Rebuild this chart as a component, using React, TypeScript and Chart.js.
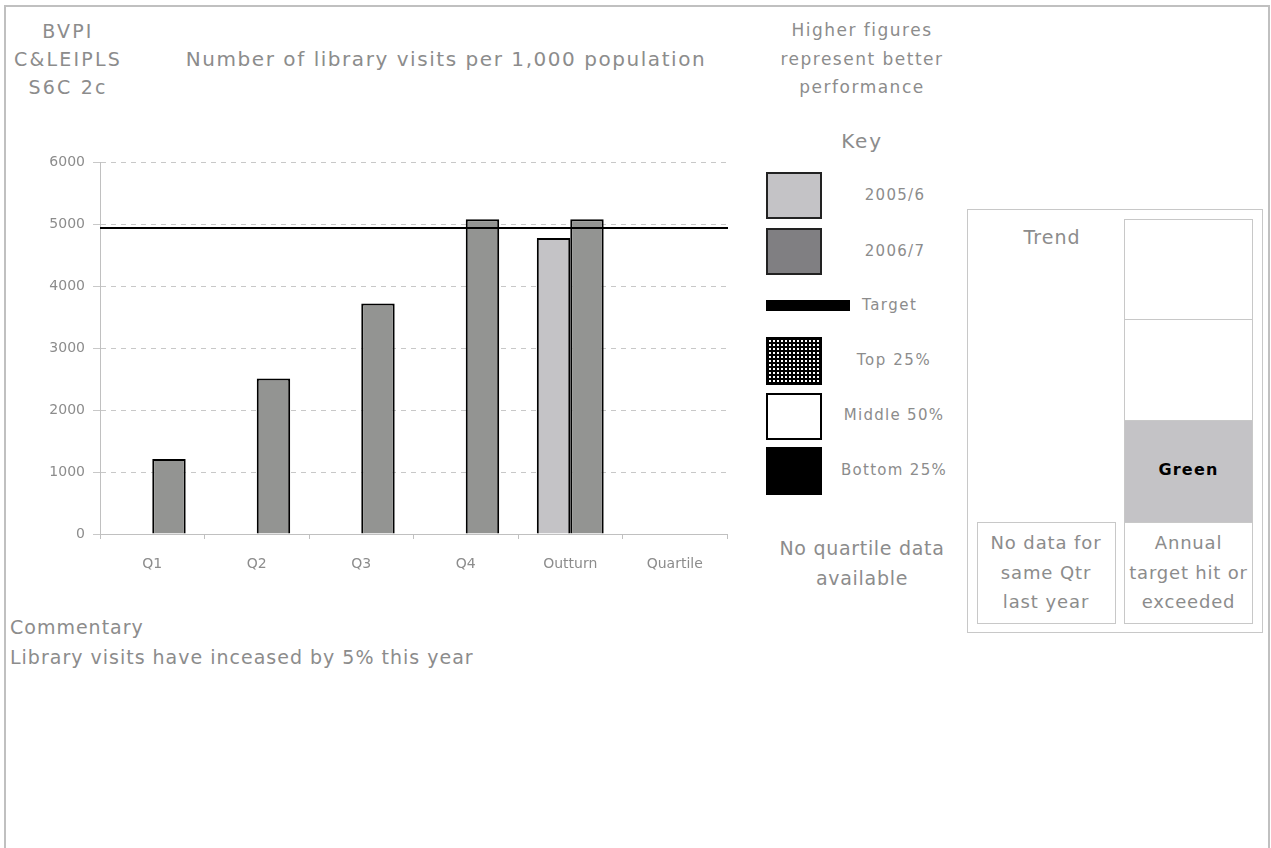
import React, { useEffect, useRef } from "react";
import { Chart, registerables } from "chart.js";

Chart.register(...registerables);

const categories = ["Q1", "Q2", "Q3", "Q4", "Outturn", "Quartile"];
const series2005 = [null, null, null, null, 4779, null];
const series2006 = [1210, 2511, 3721, 5081, 5081, null];
const TARGET = 4940;
const yTicks = [0, 1000, 2000, 3000, 4000, 5000, 6000];

const GREY_TEXT = "#8c8c8c";
const FONT = "'DejaVu Sans', Verdana, sans-serif";

const targetPlugin = {
  id: "targetLine",
  afterDatasetsDraw(chart: any) {
    const { ctx, chartArea, scales } = chart;
    const y = scales.y.getPixelForValue(TARGET);
    ctx.save();
    ctx.strokeStyle = "#000";
    ctx.lineWidth = 2;
    ctx.beginPath();
    ctx.moveTo(chartArea.left, y);
    ctx.lineTo(chartArea.right + 1, y);
    ctx.stroke();
    ctx.restore();
  },
};

function BarChart() {
  const ref = useRef<HTMLCanvasElement>(null);
  useEffect(() => {
    if (!ref.current) return;
    const chart = new Chart(ref.current, {
      type: "bar",
      data: {
        labels: categories,
        datasets: [
          {
            label: "2005/6",
            data: series2005,
            backgroundColor: "#c4c3c6",
            borderColor: "#000",
            borderWidth: 2,
          },
          {
            label: "2006/7",
            data: series2006,
            backgroundColor: "#939492",
            borderColor: "#000",
            borderWidth: 2,
          },
        ],
      },
      options: {
        animation: false,
        responsive: false,
        maintainAspectRatio: false,
        layout: { padding: { left: 0, top: 9, right: 13, bottom: 0 } },
        plugins: { legend: { display: false }, tooltip: { enabled: false }, title: { display: false } },
        datasets: { bar: { categoryPercentage: 0.64, barPercentage: 1 } },
        scales: {
          x: {
            offset: true,
            grid: {
              offset: true,
              drawOnChartArea: false,
              drawTicks: true,
              tickLength: 5,
              color: "#c0c0c0",
            },
            border: { color: "#c0c0c0", width: 1 },
            ticks: { color: GREY_TEXT, font: { family: FONT, size: 14 }, padding: 17 },
            afterFit(scale: any) {
              scale.height = 46;
            },
          },
          y: {
            min: 0,
            max: 6000,
            afterBuildTicks(scale: any) {
              scale.ticks = yTicks.map((v) => ({ value: v }));
            },
            grid: {
              color: "#c8c8c8",
              tickLength: 7,
              tickBorderDash: [],
              tickColor: "#c8c8c8",
            },
            border: { color: "#c0c0c0", width: 1, dash: [5, 5] },
            ticks: {
              color: GREY_TEXT,
              font: { family: FONT, size: 14 },
              padding: 8,
              callback: (v: any) => String(v),
            },
            afterFit(scale: any) {
              scale.width = 100;
            },
          },
        },
      },
      plugins: [targetPlugin],
    });
    return () => chart.destroy();
  }, []);
  return <canvas ref={ref} width={740} height={434} style={{ position: "absolute", left: 0, top: 146, width: 740, height: 434 }} />;
}

const txt = (s: React.CSSProperties): React.CSSProperties => ({
  position: "absolute",
  color: GREY_TEXT,
  fontFamily: FONT,
  whiteSpace: "nowrap",
  ...s,
});

function Centered({ cx, top, w, size, lh, ls, children, style }: any) {
  return (
    <div
      style={txt({
        left: cx - w / 2,
        top,
        width: w,
        textAlign: "center",
        fontSize: size,
        lineHeight: lh + "px",
        letterSpacing: (ls || 0) + "px",
        ...style,
      })}
    >
      {children}
    </div>
  );
}

const box = (s: React.CSSProperties): React.CSSProperties => ({
  position: "absolute",
  boxSizing: "border-box",
  ...s,
});

export default function App() {
  return (
    <div style={{ position: "absolute", left: 0, top: 0, width: 1271, height: 848, background: "#fff", overflow: "hidden" }}>
      <div style={box({ left: 4, top: 5, width: 1266, height: 860, border: "2px solid #c0c0c0" })} />

      <Centered cx={68} top={17} w={150} size={19} lh={28} ls={2.2}>
        BVPI<br />C&amp;LEIPLS<br />S6C 2c
      </Centered>
      <Centered cx={446} top={45} w={600} size={20} lh={28} ls={1.55}>
        Number of library visits per 1,000 population
      </Centered>

      <BarChart />

      <Centered cx={862} top={16} w={200} size={17} lh={28.5} ls={1.5}>
        Higher figures<br />represent better<br />performance
      </Centered>
      <Centered cx={862} top={127} w={100} size={20} lh={28} ls={1.8}>
        Key
      </Centered>

      <div style={box({ left: 766, top: 172, width: 56, height: 47, background: "#c4c3c6", border: "2px solid #222" })} />
      <Centered cx={895} top={185} w={110} size={15} lh={20} ls={1.3}>2005/6</Centered>
      <div style={box({ left: 766, top: 228, width: 56, height: 47, background: "#807f82", border: "2px solid #222" })} />
      <Centered cx={895} top={241} w={110} size={15} lh={20} ls={1.3}>2006/7</Centered>
      <div style={box({ left: 766, top: 300, width: 84, height: 11, background: "#000" })} />
      <div style={txt({ left: 862, top: 295, fontSize: 15, lineHeight: "20px", letterSpacing: "1.5px" })}>Target</div>

      <div
        style={box({
          left: 766,
          top: 337,
          width: 56,
          height: 48,
          border: "2px solid #000",
          backgroundColor: "#000",
          backgroundImage: "radial-gradient(circle, #fff 1px, transparent 1.3px)",
          backgroundSize: "4px 4px",
        })}
      />
      <Centered cx={894} top={350} w={120} size={15} lh={20} ls={1.6}>Top 25%</Centered>
      <div style={box({ left: 766, top: 393, width: 56, height: 47, background: "#fff", border: "2px solid #000" })} />
      <Centered cx={894} top={405} w={120} size={15} lh={20} ls={1.3}>Middle 50%</Centered>
      <div style={box({ left: 766, top: 447, width: 56, height: 48, background: "#000" })} />
      <Centered cx={894} top={460} w={120} size={15} lh={20} ls={1.3}>Bottom 25%</Centered>

      <Centered cx={862} top={533} w={200} size={19} lh={30} ls={0.7}>
        No quartile data<br />available
      </Centered>

      <div style={box({ left: 967, top: 209, width: 296, height: 424, border: "1px solid #c8c8c8" })} />
      <Centered cx={1052} top={223} w={120} size={19} lh={28} ls={1}>Trend</Centered>
      <div style={box({ left: 1124, top: 219, width: 129, height: 101, border: "1px solid #c8c8c8" })} />
      <div style={box({ left: 1124, top: 319, width: 129, height: 102, border: "1px solid #c8c8c8" })} />
      <div style={box({ left: 1124, top: 420, width: 129, height: 103, background: "#c4c3c6", border: "1px solid #c8c8c8" })} />
      <Centered cx={1188.5} top={459} w={120} size={16} lh={22} ls={1.2} style={{ color: "#000", fontWeight: "bold" }}>Green</Centered>
      <div style={box({ left: 1124, top: 522, width: 129, height: 102, border: "1px solid #c8c8c8" })} />
      <Centered cx={1188.5} top={528} w={129} size={18} lh={29.5} ls={0.8}>
        Annual<br />target hit or<br />exceeded
      </Centered>
      <div style={box({ left: 977, top: 522, width: 139, height: 102, border: "1px solid #c8c8c8" })} />
      <Centered cx={1046} top={528} w={139} size={18} lh={29.5} ls={0.9}>
        No data for<br />same Qtr<br />last year
      </Centered>

      <div style={txt({ left: 10, top: 612, fontSize: 19, lineHeight: "30px", letterSpacing: "1px" })}>
        Commentary<br />Library visits have inceased by 5% this year
      </div>
    </div>
  );
}
